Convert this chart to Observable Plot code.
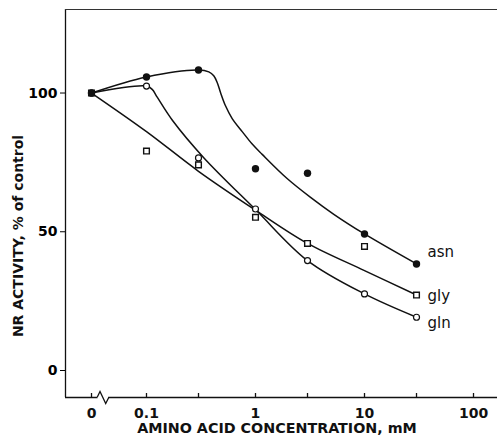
<!DOCTYPE html>
<html><head><meta charset="utf-8">
<script src="https://cdn.jsdelivr.net/npm/d3@7"></script>
<script src="https://cdn.jsdelivr.net/npm/@observablehq/plot@0.6"></script>
<style>
body{margin:0;background:#fff}
#chart svg{font-family:"DejaVu Sans",sans-serif;}
</style>
</head><body><div id="chart"></div>
<script>
// Concentration "0" is drawn at this position on the broken log axis
const ZERO_POS = 0.0313;

// Measured points (mM, % of control)
const concentrations = [0, 0.1, 0.3, 1, 3, 10, 30];
const asnValues = [100, 105.8, 108.3, 72.7, 71.1, 49.2, 38.4];
const glyValues = [100, 79.1, 74.1, 55.2, 45.8, 44.7, 27.2];
const glnValues = [100, 102.5, 76.6, 58.2, 39.6, 27.6, 19.2];

// Hand-fitted curves
const asnCurveX = [0, 0.1, 0.3, 0.373, 0.414, 0.4452, 0.4774, 0.5306, 0.6112, 0.7551, 0.9326, 1.152, 1.95, 3.2, 5.23, 10, 30];
const asnCurveY = [100, 105.8, 108.3, 107.6, 106.2, 103.8, 100.2, 95.4, 90.8, 86.1, 81.6, 77.9, 69.2, 62.4, 56.3, 49.2, 38.4];
const glyCurveX = [0, 0.1, 0.3, 1, 3, 10, 30];
const glyCurveY = [100, 86.1, 71.8, 57.8, 45.8, 36.0, 27.2];
const glnCurveX = [0, 0.1, 0.1128, 0.1254, 0.1734, 0.3334, 1, 3, 10, 30];
const glnCurveY = [100, 102.5, 101.3, 98.5, 90.1, 76.8, 58.0, 39.6, 27.6, 19.2];

// Axes
const xTickValues = [0, 0.1, 0.3, 1, 3, 10, 30, 100];
const xTickLabels = ["0", "0.1", "", "1", "", "10", "", "100"];
const yTickValues = [0, 50, 100];
const seriesNames = ["asn", "gly", "gln"];

const X_DOMAIN = [0.01807, 166];
const Y_DOMAIN = [-9.73, 130.1];

const pos = c => c === 0 ? ZERO_POS : c;
const pts = (xs, ys) => xs.map((x, i) => ({x: pos(x), y: ys[i]}));

const asnPts = pts(concentrations, asnValues);
const glyPts = pts(concentrations, glyValues);
const glnPts = pts(concentrations, glnValues);
const asnCurve = pts(asnCurveX, asnCurveY);
const glyCurve = pts(glyCurveX, glyCurveY);
const glnCurve = pts(glnCurveX, glnCurveY);

const xTicks = xTickValues.map((v, i) => ({x: pos(v), label: xTickLabels[i]}));
const last = a => a[a.length - 1];

const lineOpts = {x: "x", y: "y", curve: "catmull-rom", stroke: "#111", strokeWidth: 1.5};
const labelOpts = {x: "x", y: "y", text: "name", dx: 11, textAnchor: "start", fontSize: 15, fill: "#111"};

const plot = Plot.plot({
  width: 498, height: 438,
  marginLeft: 65, marginRight: 1, marginTop: 9, marginBottom: 41,
  x: {type: "log", domain: X_DOMAIN, axis: null},
  y: {domain: Y_DOMAIN, axis: null},
  marks: [
    Plot.ruleX([X_DOMAIN[0]], {stroke: "#111", strokeWidth: 1.3}),
    Plot.ruleY([Y_DOMAIN[1]], {stroke: "#333", strokeWidth: 1}),
    Plot.ruleY([Y_DOMAIN[0]], {stroke: "#111", strokeWidth: 1.5}),
    Plot.tickX(xTicks, {x: "x", insetTop: 384, stroke: "#111", strokeWidth: 1.3}),
    Plot.text(xTicks, {x: "x", y: () => Y_DOMAIN[0], text: "label", dy: 16, fontSize: 14, fontWeight: "bold", fill: "#111"}),
    Plot.axisY({ticks: yTickValues, tickSize: 5, tickPadding: 3, fontSize: 14, fontWeight: "bold", label: null}),
    Plot.line(asnCurve, lineOpts),
    Plot.line(glyCurve, lineOpts),
    Plot.line(glnCurve, lineOpts),
    Plot.dot(glyPts, {x: "x", y: "y", symbol: "square", r: 3.2, fill: "white", stroke: "#111", strokeWidth: 1.4}),
    Plot.dot(glnPts, {x: "x", y: "y", symbol: "circle", r: 3, fill: "white", stroke: "#111", strokeWidth: 1.2}),
    Plot.dot(asnPts, {x: "x", y: "y", symbol: "circle", r: 3.7, fill: "#111", stroke: "none"}),
    Plot.text([{name: seriesNames[0], ...last(asnPts)}], {...labelOpts, dy: -12}),
    Plot.text([{name: seriesNames[1], ...last(glyPts)}], {...labelOpts, dy: 1}),
    Plot.text([{name: seriesNames[2], ...last(glnPts)}], {...labelOpts, dy: 6})
  ]
});

// axis break on x axis
const svg = d3.select(plot);
const x0 = plot.scale("x").apply(ZERO_POS);
const yb = plot.scale("y").apply(Y_DOMAIN[0]);
svg.append("rect").attr("x", x0 + 6.5).attr("y", yb - 2).attr("width", 11).attr("height", 4).attr("fill", "white");
svg.append("path")
  .attr("d", `M${x0 + 6.3},${yb} L${x0 + 9},${yb - 5.5} L${x0 + 14.7},${yb + 6.5} L${x0 + 18},${yb}`)
  .attr("fill", "none").attr("stroke", "#111").attr("stroke-width", 1.3);

// axis titles
svg.append("text").attr("x", 277).attr("y", 433).attr("text-anchor", "middle")
  .attr("font-size", 14.3).attr("font-weight", "600").attr("fill", "#111")
  .text("AMINO ACID CONCENTRATION, mM");
svg.append("text").attr("transform", "translate(23,236) rotate(-90)").attr("text-anchor", "middle")
  .attr("font-size", 14).attr("font-weight", "600").attr("fill", "#111")
  .text("NR ACTIVITY, % of control");

document.getElementById("chart").appendChild(plot);
</script>
</body></html>
